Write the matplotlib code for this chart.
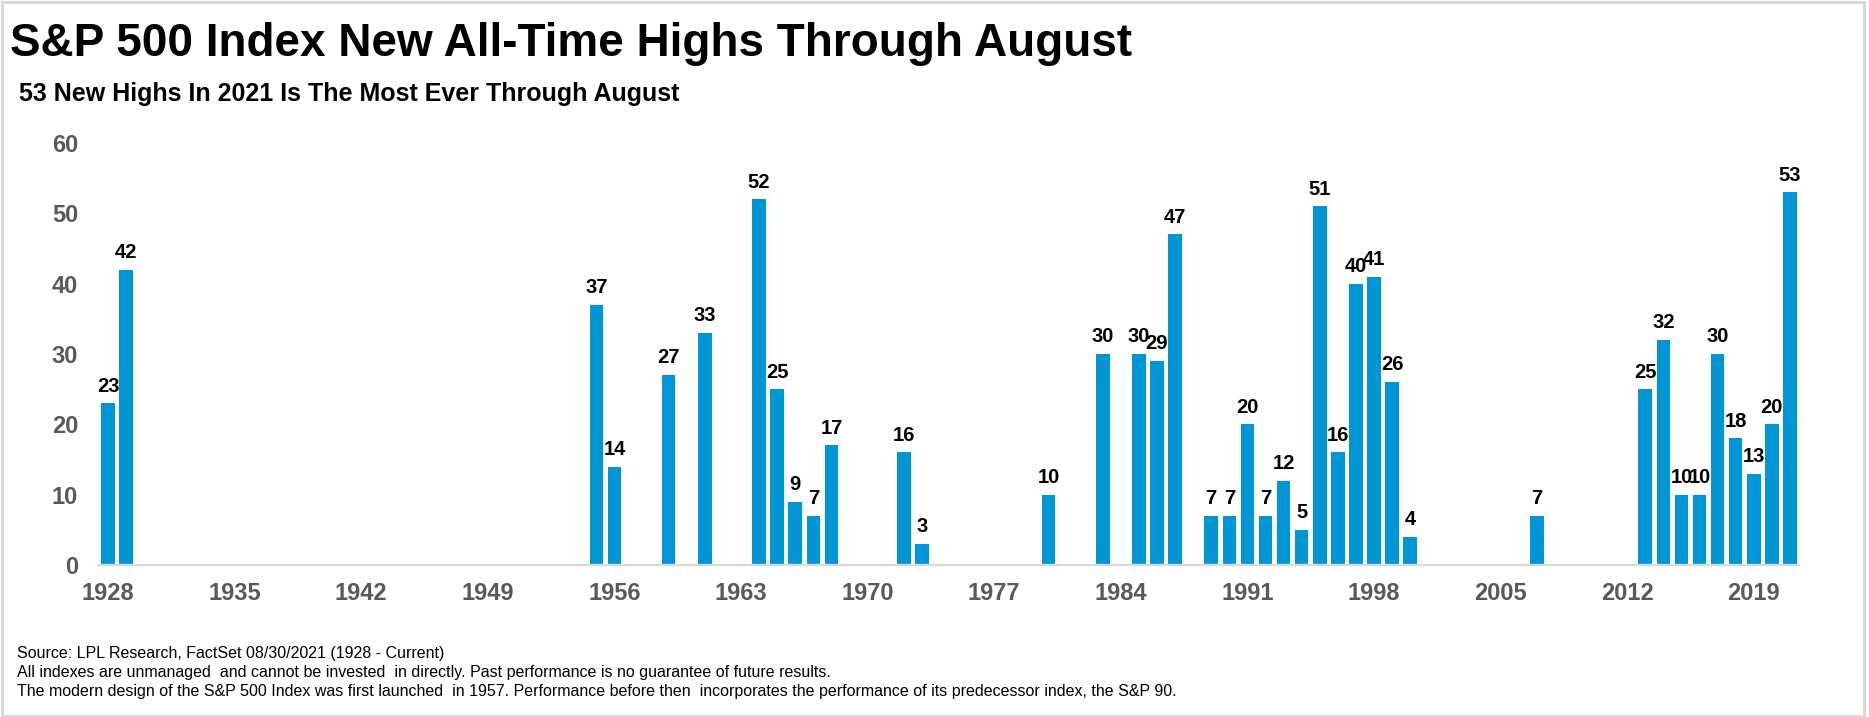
import matplotlib
matplotlib.use('Agg')
import matplotlib.pyplot as plt
from matplotlib.patches import Rectangle

# ---- data ----
years = [1928, 1929, 1955, 1956, 1959, 1961, 1964, 1965, 1966, 1967, 1968,
         1972, 1973, 1980, 1983, 1985, 1986, 1987, 1989, 1990, 1991, 1992,
         1993, 1994, 1995, 1996, 1997, 1998, 1999, 2000, 2007, 2013, 2014,
         2015, 2016, 2017, 2018, 2019, 2020, 2021]
new_highs = [23, 42, 37, 14, 27, 33, 52, 25, 9, 7, 17,
             16, 3, 10, 30, 30, 29, 47, 7, 7, 20, 7,
             12, 5, 51, 16, 40, 41, 26, 4, 7, 25, 32,
             10, 10, 30, 18, 13, 20, 53]
x_ticks = [1928, 1935, 1942, 1949, 1956, 1963, 1970, 1977, 1984, 1991, 1998, 2005, 2012, 2019]
y_ticks = [0, 10, 20, 30, 40, 50, 60]

title = "S&P 500 Index New All-Time Highs Through August"
subtitle = "53 New Highs In 2021 Is The Most Ever Through August"
footnotes = [
    "Source: LPL Research, FactSet 08/30/2021 (1928 - Current)",
    "All indexes are unmanaged  and cannot be invested  in directly. Past performance is no guarantee of future results.",
    "The modern design of the S&P 500 Index was first launched  in 1957. Performance before then  incorporates the performance of its predecessor index, the S&P 90.",
]

plt.rcParams['font.family'] = ['Liberation Sans', 'DejaVu Sans']

W, H = 1869, 717
fig = plt.figure(figsize=(W / 100, H / 100), dpi=100)
fig.patch.set_facecolor('white')

def fx(px):
    return px / W

def fy(py):
    return 1 - py / H

ax = fig.add_axes([fx(99), fy(565), fx(1799) - fx(99), fy(143) - fy(565)])

bar_color = '#0096D6'
ax.bar(years, new_highs, width=0.75, color=bar_color, zorder=2)

for x, v in zip(years, new_highs):
    ax.annotate(str(v), (x, v), xytext=(0, 5.5), textcoords='offset points',
                ha='center', va='bottom', fontsize=14.5, fontweight='bold',
                color='black')

ax.set_xlim(1927.5, 2021.5)
ax.set_ylim(0, 60)
ax.set_xticks(x_ticks)
ax.set_xticklabels([str(t) for t in x_ticks])
ax.set_yticks(y_ticks)
ax.set_yticklabels([str(t) for t in y_ticks])

for s in ['top', 'right', 'left']:
    ax.spines[s].set_visible(False)
ax.spines['bottom'].set_color('#D9D9D9')
ax.spines['bottom'].set_linewidth(1.7)
ax.spines['bottom'].set_zorder(3)

ax.tick_params(axis='both', length=0, labelsize=17, labelcolor='#595959')
ax.tick_params(axis='x', pad=12)
ax.tick_params(axis='y', pad=15)
for lab in ax.get_xticklabels() + ax.get_yticklabels():
    lab.set_fontweight('bold')

fig.text(fx(10), fy(56.5), title, fontsize=33, fontweight='bold',
         color='black', ha='left', va='baseline')
fig.text(fx(19), fy(100.5), subtitle, fontsize=18, fontweight='bold',
         color='black', ha='left', va='baseline')

for i, line in enumerate(footnotes):
    fig.text(fx(17), fy(658 + 19 * i), line, fontsize=11.5, color='black',
             ha='left', va='baseline')

fig.patches.append(Rectangle((fx(1.5), fy(715.5)), fx(1864) - fx(1.5), fy(1.5) - fy(715.5),
                             transform=fig.transFigure, fill=False,
                             edgecolor='#D9D9D9', linewidth=2.2))

fig.savefig('out.png', dpi=100, facecolor='white')
